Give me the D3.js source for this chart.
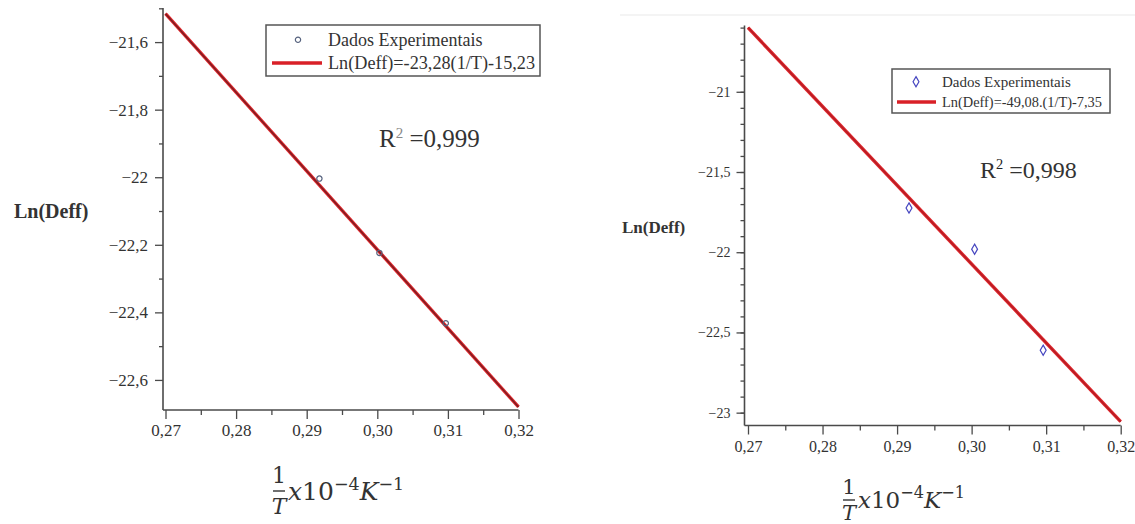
<!DOCTYPE html>
<html>
<head>
<meta charset="utf-8">
<script src="https://cdn.jsdelivr.net/npm/d3@7"></script>
<style>
  body { margin: 0; background: #fff; }
  svg { display: block; }
  text { font-family: "Liberation Serif", "Times New Roman", serif; fill: #333; }
</style>
</head>
<body>
<div id="chart"></div>
<script>
// tick values
const xTicks = [0.27, 0.28, 0.29, 0.30, 0.31, 0.32];
const leftYTicks = [-21.6, -21.8, -22.0, -22.2, -22.4, -22.6];
const rightYTicks = [-21, -21.5, -22, -22.5, -23];

const leftPtsX = [0.2918, 0.3003, 0.3097];
const leftPtsY = [-22.004, -22.224, -22.432];
const rightPtsX = [0.2916, 0.3004, 0.3096];
const rightPtsY = [-21.724, -21.981, -22.611];

// fitted lines, end points
const leftFitX = [0.27, 0.32];
const leftFitY = [-21.516, -22.680];
const rightFitX = [0.27, 0.32];
const rightFitY = [-20.600, -23.056];

// legend / annotation texts
const legendPoints = "Dados Experimentais";
const leftFitLabel = "Ln(Deff)=-23,28(1/T)-15,23";
const rightFitLabel = "Ln(Deff)=-49,08.(1/T)-7,35";
const leftR2 = "0,999";
const rightR2 = "0,998";
const yTitle = "Ln(Deff)";

const W = 1135, H = 524;
const svg = d3.select("#chart").append("svg")
  .attr("width", W).attr("height", H);

const loc = d3.formatLocale({ decimal: ",", thousands: ".", grouping: [3], currency: ["", ""], minus: "\u2212" });
const fmtX = loc.format(".2f");
const fmtY = loc.format("~f");

function drawPanel(cfg) {
  const g = svg.append("g");

  const x = d3.scaleLinear().domain([0.27, 0.32]).range(cfg.xRange);
  const y = d3.scaleLinear().domain(cfg.yDomain).range(cfg.yRange);

  const axisColor = "#4a4a4a";

  // y axis, minor then major
  g.append("g")
    .attr("transform", `translate(${cfg.axisX},0)`)
    .call(d3.axisLeft(y).tickValues(cfg.yMinor).tickSize(4).tickFormat(""))
    .call(a => a.select(".domain").remove())
    .call(a => a.selectAll("line").attr("stroke", axisColor).attr("stroke-width", 1.3));

  g.append("g")
    .attr("transform", `translate(${cfg.axisX},0)`)
    .call(d3.axisLeft(y).tickValues(cfg.yTicks).tickSize(8).tickPadding(cfg.yPad).tickFormat(fmtY))
    .call(a => a.select(".domain").remove())
    .call(a => a.selectAll("line").attr("stroke", axisColor).attr("stroke-width", 1.3))
    .call(a => a.selectAll("text")
      .style("font-size", cfg.yFont + "px")
      .style("font-family", "'Liberation Serif', serif")
      .attr("fill", "#333"));

  // x axis, minor then major
  const xAxisY = cfg.yRange[0];
  g.append("g")
    .attr("transform", `translate(0,${xAxisY})`)
    .call(d3.axisBottom(x).tickValues(d3.range(0.275, 0.32, 0.01)).tickSize(5).tickFormat(""))
    .call(a => a.select(".domain").remove())
    .call(a => a.selectAll("line").attr("stroke", axisColor).attr("stroke-width", 1.3));

  g.append("g")
    .attr("transform", `translate(0,${xAxisY})`)
    .call(d3.axisBottom(x).tickValues(xTicks).tickSize(9).tickPadding(cfg.xPad).tickFormat(fmtX))
    .call(a => a.select(".domain").remove())
    .call(a => a.selectAll("line").attr("stroke", axisColor).attr("stroke-width", 1.3))
    .call(a => a.selectAll("text")
      .style("font-size", cfg.xFont + "px")
      .style("font-family", "'Liberation Serif', serif")
      .attr("fill", "#333"));

  // axis lines
  g.append("line")
    .attr("x1", cfg.axisX).attr("x2", cfg.axisX)
    .attr("y1", cfg.yRange[1] - 2).attr("y2", xAxisY)
    .attr("stroke", axisColor).attr("stroke-width", 1.6);
  g.append("line")
    .attr("x1", cfg.axisX).attr("x2", cfg.xRange[1])
    .attr("y1", xAxisY).attr("y2", xAxisY)
    .attr("stroke", axisColor).attr("stroke-width", 1.6);

  // fitted line
  const line = d3.line().x(d => x(d[0])).y(d => y(d[1]));
  const fit = d3.zip(cfg.fitX, cfg.fitY);
  g.append("path").datum(fit).attr("d", line)
    .attr("fill", "none").attr("stroke", "#e0262c").attr("stroke-width", 3.4);
  g.append("path").datum(fit).attr("d", line)
    .attr("fill", "none").attr("stroke", cfg.lineCore).attr("stroke-width", 1.4);

  // experimental points
  const sym = d3.symbol().type(cfg.symbol).size(cfg.symSize);
  g.selectAll(".pt").data(d3.zip(cfg.ptsX, cfg.ptsY)).join("path")
    .attr("class", "pt")
    .attr("transform", d => `translate(${x(d[0])},${y(d[1])})`)
    .attr("d", sym)
    .attr("fill", "none")
    .attr("stroke", cfg.ptColor).attr("stroke-width", 1.2);

  // y title
  g.append("text")
    .attr("x", cfg.yTitle.x).attr("y", cfg.yTitle.y)
    .style("font-size", cfg.yTitle.size + "px")
    .style("font-weight", "bold")
    .attr("fill", "#222")
    .text(yTitle);

  // legend
  const L = cfg.legend;
  const lg = g.append("g");
  lg.append("rect")
    .attr("x", L.x).attr("y", L.y).attr("width", L.w).attr("height", L.h)
    .attr("fill", "#fff").attr("stroke", "#555").attr("stroke-width", 1.5);
  lg.append("path")
    .attr("transform", `translate(${L.x + L.markX},${L.y + L.row1 - L.font * 0.35})`)
    .attr("d", d3.symbol().type(cfg.symbol).size(cfg.symSize))
    .attr("fill", "none").attr("stroke", cfg.ptColor).attr("stroke-width", 1.2);
  lg.append("line")
    .attr("x1", L.x + L.lineX0).attr("x2", L.x + L.lineX1)
    .attr("y1", L.y + L.row2 - L.font * 0.33).attr("y2", L.y + L.row2 - L.font * 0.33)
    .attr("stroke", "#d92027").attr("stroke-width", 3.5);
  lg.append("text")
    .attr("x", L.x + L.textX).attr("y", L.y + L.row1)
    .style("font-size", L.font + "px").attr("fill", "#222")
    .text(legendPoints);
  lg.append("text")
    .attr("x", L.x + L.textX).attr("y", L.y + L.row2)
    .style("font-size", L.font + "px").attr("fill", "#222")
    .attr("textLength", L.fitLen).attr("lengthAdjust", "spacingAndGlyphs")
    .text(cfg.fitLabel);

  // R^2 annotation
  const r = g.append("text")
    .attr("x", cfg.r2.x).attr("y", cfg.r2.y)
    .style("font-size", cfg.r2.size + "px").attr("fill", "#222");
  r.append("tspan").text("R");
  r.append("tspan").attr("dy", -cfg.r2.size * 0.38)
    .style("font-size", (cfg.r2.size * 0.6) + "px")
    .attr("fill", cfg.r2.supColor).text("2");
  r.append("tspan").attr("dy", cfg.r2.size * 0.38).text(" =" + cfg.r2.value);

  // x title: 1/T x10^-4 K^-1
  const F = cfg.xTitle;
  const mathFont = "'DejaVu Serif', serif";
  g.append("text").attr("x", F.cx).attr("y", F.y1)
    .attr("text-anchor", "middle").style("font-family", mathFont)
    .style("font-size", F.size + "px").attr("fill", "#222").text("1");
  g.append("line").attr("x1", F.cx - 6).attr("x2", F.cx + 6)
    .attr("y1", F.bar).attr("y2", F.bar).attr("stroke", "#222").attr("stroke-width", 1.3);
  g.append("text").attr("x", F.cx).attr("y", F.y2)
    .attr("text-anchor", "middle").style("font-family", mathFont)
    .style("font-size", F.size + "px").style("font-style", "italic")
    .attr("fill", "#222").text("T");
  const t = g.append("text").attr("x", F.tx).attr("y", F.ty)
    .style("font-family", mathFont).style("font-size", F.tsize + "px").attr("fill", "#222");
  t.append("tspan").style("font-style", "italic").text("x");
  t.append("tspan").text("10");
  t.append("tspan").attr("dy", -F.tsize * 0.42).style("font-size", (F.tsize * 0.7) + "px").text("\u22124");
  t.append("tspan").attr("dy", F.tsize * 0.42).style("font-style", "italic").text("K");
  t.append("tspan").attr("dy", -F.tsize * 0.42).style("font-size", (F.tsize * 0.7) + "px").text("\u22121");
}

// faint frame line at the top of the right picture
svg.append("line").attr("x1", 620).attr("x2", W).attr("y1", 15).attr("y2", 15)
  .attr("stroke", "#f0f0f0").attr("stroke-width", 1.5);

drawPanel({
  xRange: [165.5, 518.5],
  yDomain: [-22.689, -21.505],
  yRange: [410, 10],
  axisX: 163,
  yTicks: leftYTicks,
  yMinor: d3.range(-21.5, -22.65, -0.2),
  yFont: 17, yPad: 7,
  xFont: 17, xPad: 5,
  fitX: leftFitX, fitY: leftFitY,
  lineCore: "#7a1e22",
  ptsX: leftPtsX, ptsY: leftPtsY,
  symbol: d3.symbolCircle, symSize: 22, ptColor: "#56627e",
  fitLabel: leftFitLabel,
  yTitle: { x: 14, y: 218, size: 20 },
  legend: { x: 266, y: 25, w: 274, h: 51, font: 18, row1: 21, row2: 44,
            markX: 32, lineX0: 6, lineX1: 56, textX: 62, fitLen: 207 },
  r2: { x: 379, y: 147, size: 25, value: leftR2, supColor: "#888" },
  xTitle: { cx: 279, y1: 483, bar: 491, y2: 514, tx: 288, ty: 500, size: 22, tsize: 25 }
});

drawPanel({
  xRange: [748, 1120.7],
  yDomain: [-23.08, -20.6],
  yRange: [425.5, 27.6],
  axisX: 744.5,
  yTicks: rightYTicks,
  yMinor: d3.range(-20.6, -23.05, -0.1),
  yFont: 14, yPad: 6,
  xFont: 16, xPad: 6,
  fitX: rightFitX, fitY: rightFitY,
  lineCore: "#b51d24",
  ptsX: rightPtsX, ptsY: rightPtsY,
  symbol: d3.symbolDiamond, symSize: 30, ptColor: "#4646c0",
  fitLabel: rightFitLabel,
  yTitle: { x: 622, y: 233, size: 17 },
  legend: { x: 892, y: 69, w: 218, h: 44, font: 15, row1: 18, row2: 38,
            markX: 24, lineX0: 5, lineX1: 44, textX: 50, fitLen: 160 },
  r2: { x: 980, y: 178, size: 24, value: rightR2, supColor: "#222" },
  xTitle: { cx: 849, y1: 494, bar: 500, y2: 520, tx: 858, ty: 508, size: 21, tsize: 23 }
});
</script>
</body>
</html>
